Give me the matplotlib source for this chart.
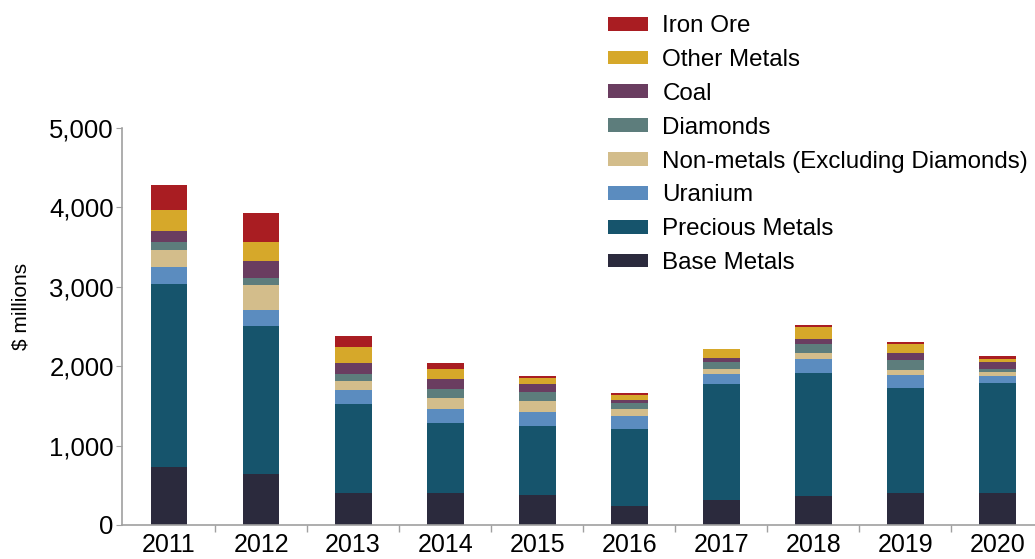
import matplotlib
matplotlib.use("Agg")
import matplotlib.pyplot as plt
import numpy as np
from matplotlib.ticker import FuncFormatter, FixedLocator

plt.rcParams["font.family"] = ["Liberation Sans", "DejaVu Sans"]

years = [2011, 2012, 2013, 2014, 2015, 2016, 2017, 2018, 2019, 2020]

# $ millions by commodity, bottom to top of each stack
base_metals = [733, 637, 406, 406, 381, 243, 314, 364, 406, 406]
precious_metals = [2303, 1863, 1123, 872, 867, 959, 1457, 1550, 1315, 1386]
uranium = [209, 210, 171, 188, 176, 171, 134, 171, 167, 80]
non_metals = [218, 318, 118, 138, 134, 93, 63, 80, 68, 50]
diamonds = [97, 84, 79, 108, 117, 71, 88, 118, 126, 42]
coal = [137, 213, 142, 122, 96, 42, 50, 63, 88, 88]
other_metals = [273, 239, 201, 126, 84, 63, 105, 146, 113, 38]
iron_ore = [310, 360, 138, 79, 21, 21, 5, 21, 16, 33]

series = [
    ("Base Metals", base_metals, "#2b2a3d"),
    ("Precious Metals", precious_metals, "#16546c"),
    ("Uranium", uranium, "#5b8cbf"),
    ("Non-metals (Excluding Diamonds)", non_metals, "#d3bd8b"),
    ("Diamonds", diamonds, "#5d7d7c"),
    ("Coal", coal, "#6a3d60"),
    ("Other Metals", other_metals, "#d6a82a"),
    ("Iron Ore", iron_ore, "#a91d22"),
]

GRID_GREY = "#a0a0a0"

fig = plt.figure(figsize=(10.35, 5.59), dpi=100)
ax = fig.add_axes([0.118, 0.061, 0.882, 0.710])

x = np.array(years, dtype=float)
bottom = np.zeros(len(years))
handles = []
for name, vals, color in series:
    b = ax.bar(x, vals, width=0.4, bottom=bottom, color=color, label=name,
               linewidth=0)
    handles.append(b)
    bottom += np.array(vals)

ax.set_xlim(2010.49, 2020.41)
ax.set_ylim(0, 5000)
ax.set_yticks([0, 1000, 2000, 3000, 4000, 5000])
ax.yaxis.set_major_formatter(FuncFormatter(lambda v, _: f"{int(v):,}"))

# year labels centred on bars, tick marks between the bars
ax.set_xticks(years)
ax.xaxis.set_minor_locator(FixedLocator([y + 0.5 for y in years[:-1]]))
ax.tick_params(axis="x", which="major", length=0, labelsize=18, pad=6)
ax.tick_params(axis="x", which="minor", length=5, color=GRID_GREY, width=1)
ax.tick_params(axis="y", length=4, color=GRID_GREY, labelsize=18.5, pad=2)

for side in ("top", "right"):
    ax.spines[side].set_visible(False)
for side in ("left", "bottom"):
    ax.spines[side].set_color(GRID_GREY)
    ax.spines[side].set_linewidth(1.2)

ax.set_ylabel("$ millions", fontsize=15)
ax.yaxis.set_label_coords(-0.1, 0.55)

leg = fig.legend(handles[::-1], [s[0] for s in series][::-1],
                 loc="upper left", bbox_to_anchor=(0.571, 1.003),
                 frameon=False, fontsize=17.4, handlelength=1.65,
                 handleheight=0.5, handletextpad=0.6, labelspacing=0.49,
                 borderaxespad=0.3)

fig.savefig("out.png", dpi=100)
